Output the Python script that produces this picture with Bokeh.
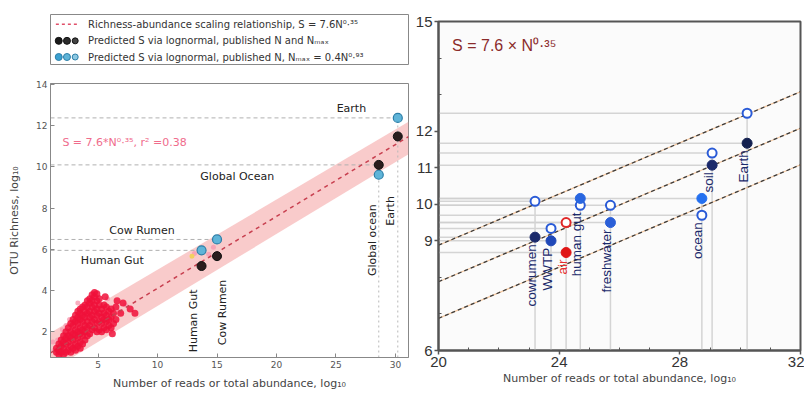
import numpy as np
from bokeh.plotting import figure
from bokeh.layouts import row, column
from bokeh.models import ColumnDataSource, FixedTicker, Range1d
from bokeh.embed import file_html
from bokeh.resources import INLINE
from bokeh.core.properties import value

# ---------------- left panel data ----------------
fit_x = [1.0, 31.1]
fit_y = [0.97, 11.47]
band_x = [1.0, 31.1]
band_lo = [0.11, 10.62]
band_hi = [1.95, 12.19]

sites = ["Human Gut", "Cow Rumen", "Global ocean", "Earth"]
site_n = [13.7, 15.0, 28.6, 30.2]
site_s_published = [5.19, 5.67, 10.10, 11.48]   # black: published N and Nmax
site_s_scaled = [5.95, 6.48, 9.62, 12.38]       # blue: Nmax = 0.4 N^0.93

cloud_x = [
    1.5, 1.5,
    1.7, 1.7, 1.7,
    1.9, 1.9, 1.9,
    2.1, 2.1, 2.1, 2.1,
    2.3, 2.3, 2.3, 2.3,
    2.5, 2.5, 2.5, 2.5,
    2.7, 2.7, 2.7, 2.7, 2.7,
    2.9, 2.9, 2.9, 2.9, 2.9,
    3.1, 3.1, 3.1, 3.1, 3.1, 3.1,
    3.3, 3.3, 3.3, 3.3, 3.3, 3.3,
    3.5, 3.5, 3.5, 3.5, 3.5, 3.5, 3.5,
    3.7, 3.7, 3.7, 3.7, 3.7, 3.7,
    3.9, 3.9, 3.9, 3.9, 3.9, 3.9,
    4.1, 4.1, 4.1, 4.1, 4.1, 4.1,
    4.3, 4.3, 4.3, 4.3, 4.3, 4.3,
    4.5, 4.5, 4.5, 4.5, 4.5, 4.5,
    4.7, 4.7, 4.7, 4.7, 4.7, 4.7,
    4.9, 4.9, 4.9, 4.9, 4.9, 4.9,
    5.1, 5.1, 5.1, 5.1, 5.1,
    5.3, 5.3, 5.3, 5.3,
    5.5, 5.5, 5.5, 5.5,
    5.7, 5.7, 5.7, 5.7,
    5.9, 5.9, 5.9,
    6.1, 6.1, 6.1,
    6.3, 6.3,
    6.5, 6.5,
    6.9, 7.7, 8.1, 6.2, 5.6, 7.1, 6.6]
cloud_y = [
    1.0, 1.2,
    0.9, 1.1, 1.4,
    1.0, 1.3, 1.6,
    0.9, 1.2, 1.5, 1.8,
    1.0, 1.4, 1.7, 2.0,
    1.1, 1.5, 1.8, 2.2,
    1.0, 1.3, 1.7, 2.0, 2.4,
    1.2, 1.6, 1.9, 2.3, 2.6,
    1.1, 1.4, 1.8, 2.1, 2.5, 2.8,
    1.3, 1.7, 2.0, 2.4, 2.7, 3.0,
    1.2, 1.5, 1.9, 2.2, 2.6, 2.9, 3.1,
    1.4, 1.8, 2.1, 2.5, 2.8, 3.2,
    1.6, 2.0, 2.3, 2.7, 3.0, 3.3,
    1.8, 2.2, 2.5, 2.9, 3.2, 3.5,
    1.9, 2.3, 2.7, 3.0, 3.4, 3.6,
    2.1, 2.5, 2.8, 3.2, 3.5, 3.8,
    2.2, 2.6, 3.0, 3.3, 3.7, 3.9,
    2.0, 2.4, 2.8, 3.1, 3.5, 3.85,
    2.1, 2.5, 2.9, 3.3, 3.6,
    2.0, 2.4, 2.7, 3.1,
    2.2, 2.6, 2.9, 3.3,
    2.1, 2.5, 2.8, 3.2,
    2.3, 2.6, 3.0,
    2.2, 2.7, 3.1,
    2.4, 2.9,
    2.6, 3.2,
    2.9, 3.1, 2.9, 1.9, 3.7, 3.4, 3.5]

pink_x = [1.2, 1.3, 1.6, 1.8, 2.0, 2.3, 2.6, 3.3, 5.8, 6.8, 7.3, 13.1, 14.3, 14.7]
pink_y = [1.5, 1.1, 1.6, 0.85, 2.1, 2.3, 2.6, 3.4, 3.6, 3.0, 3.3, 5.80, 5.76, 6.10]
yellow_x = [12.9]
yellow_y = [5.67]

# ---------------- right panel data ----------------
env = ["cowrumen", "WWTP", "air", "human gut", "freshwater", "ocean", "soil", "Earth"]
env_n = [23.20, 23.73, 24.23, 24.70, 25.70, 28.73, 29.07, 30.23]
env_s_open = [10.08, 9.34, 9.50, 9.97, 9.97, 9.70, 11.40, 12.49]
env_s_filled = [9.10, 9.00, 8.68, 10.16, 9.50, 10.16, 11.07, 11.67]
env_fill = ["#1b2a6b", "#2048b8", "#e01616", "#2866e0", "#2a5fd8", "#2470f0", "#1b2a6b", "#13204f"]
env_ring = ["#2a5bd7", "#2a5bd7", "#e02828", "#2a5bd7", "#2a5bd7", "#2a5bd7", "#2a5bd7", "#2a5bd7"]
env_text = ["#1b2a6b", "#1b2a6b", "#e53030", "#1b2a6b", "#1b2a6b", "#1b2a6b", "#1b2a6b", "#1b2a6b"]

scal_x = [20.0, 32.0]
scal_mid = [7.88, 12.08]
scal_hi = [8.88, 13.08]
scal_lo = [6.88, 11.08]

LF = value("DejaVu Sans")
RF = value("Liberation Sans")

# ================= legend strip (above left panel) =================
leg = figure(width=412, height=65, x_range=Range1d(0, 100), y_range=Range1d(0, 3),
             x_axis_type=None, y_axis_type=None, toolbar_location=None,
             output_backend="svg", min_border_left=50, min_border_right=4,
             min_border_top=14, min_border_bottom=0, frame_width=358, frame_height=51)
leg.grid.visible = False
leg.outline_line_color = "#888888"
leg.outline_line_width = 1
leg.line([1.5, 7.5], [2.42, 2.42], line_color="#e0506a", line_dash="3 3", line_width=1.5)
leg.scatter([2.3, 4.6, 6.9], [1.45, 1.45, 1.45], size=[7, 7, 6],
            fill_color=["#1a1a1a", "#2b2b2b", "#444444"], line_color="#111111")
leg.scatter([2.3, 4.6, 6.9], [0.5, 0.5, 0.5], size=[7, 7, 6],
            fill_color=["#3aa0d0", "#5fb4d8", "#8cc8e2"], line_color="#2d7fa8")
leg.text([10.5, 10.5, 10.5], [2.42, 1.45, 0.5],
         text=["Richness-abundance scaling relationship, S = 7.6N\u2070\u00b7\u00b3\u2075",
               "Predicted S via lognormal, published N and N\u2098\u2090\u2093",
               "Predicted S via lognormal, published N, N\u2098\u2090\u2093 = 0.4N\u2070\u00b7\u2079\u00b3"],
         text_font=LF, text_font_size="10px", text_color="#333333",
         text_baseline="middle", text_align="left")

# ================= left panel =================
pl = figure(width=412, height=327, x_range=Range1d(1.0, 31.1), y_range=Range1d(0.75, 14.05),
            toolbar_location=None, output_backend="svg",
            min_border_left=50, min_border_right=4, min_border_top=18, min_border_bottom=35,
            frame_width=358, frame_height=274)
pl.grid.visible = False
pl.outline_line_color = "#888888"
pl.outline_line_width = 1
for ax in (pl.xaxis[0], pl.yaxis[0]):
    ax.axis_line_color = "#888888"
    ax.major_tick_in = 4
    ax.major_tick_out = 0
    ax.minor_tick_line_color = None
    ax.major_tick_line_color = "#888888"
    ax.major_label_text_font = "DejaVu Sans"
    ax.major_label_text_font_size = "9px"
    ax.major_label_text_color = "#555555"
    ax.axis_label_text_font = "DejaVu Sans"
    ax.axis_label_text_font_size = "11px"
    ax.axis_label_text_font_style = "normal"
    ax.axis_label_text_color = "#444444"
    ax.major_label_standoff = 3
pl.xaxis.ticker = FixedTicker(ticks=[5, 10, 15, 20, 25, 30])
pl.yaxis.ticker = FixedTicker(ticks=[2, 4, 6, 8, 10, 12, 14])
pl.xaxis.axis_label = "Number of reads or total abundance, log\u2081\u2080"
pl.yaxis.axis_label = "OTU Richness, log\u2081\u2080"
pl.xaxis.axis_label_standoff = 6
pl.yaxis.axis_label_standoff = 12

pl.varea(x=band_x, y1=band_lo, y2=band_hi, fill_color="#f4a0a0", fill_alpha=0.55)

# reference dashed lines to the predictions
h_y = [site_s_scaled[0], site_s_scaled[1], site_s_published[2], site_s_scaled[3]]
pl.segment(x0=[fit_x[0]] * 4, y0=h_y, x1=site_n, y1=h_y,
           line_color="#b0b0b0", line_dash="4 3", line_width=1)
pl.segment(x0=site_n[2:], y0=[0.75, 0.75], x1=site_n[2:], y1=[site_s_scaled[2], site_s_scaled[3]],
           line_color="#b8b8b8", line_dash="2 3", line_width=1)

pl.scatter(pink_x, pink_y, size=5, fill_color="#f79ab0", line_color=None, fill_alpha=0.8)
pl.scatter(cloud_x, cloud_y, size=7, fill_color="#f0103a", line_color=None, fill_alpha=0.85)
pl.scatter(yellow_x, yellow_y, size=5, fill_color="#f2d060", line_color=None)
pl.line(fit_x, fit_y, line_color="#c84050", line_dash="4 4", line_width=1.5)

pl.scatter(site_n, site_s_scaled, size=9, fill_color="#5fb4d8", line_color="#2d7fa8", line_width=1.2)
pl.scatter(site_n, site_s_published, size=9, fill_color="#2b1d1d", line_color="#111111")

pl.text([2.0], [11.2], text=["S = 7.6*N\u2070\u00b7\u00b3\u2075, r\u00b2 =0.38"],
        text_font=LF, text_font_size="11px", text_color="#f06c8c",
        text_baseline="middle", text_align="left")
pl.text([26.3, 16.7, 8.7, 6.2], [12.86, 9.52, 6.9, 5.48],
        text=["Earth", "Global Ocean", "Cow Rumen", "Human Gut"],
        text_font=LF, text_font_size="11px", text_color="#222222",
        text_baseline="middle", text_align="center")
pl.text([13.0, 15.5, 28.05, 29.6], [1.0, 1.35, 4.7, 7.15],
        text=["Human Gut", "Cow Rumen", "Global ocean", "Earth"],
        angle=np.pi / 2, text_font=LF, text_font_size="11px", text_color="#222222",
        text_baseline="middle", text_align="left")

# ================= right panel =================
pr = figure(width=392, height=392, x_range=Range1d(20, 32), y_range=Range1d(6, 15),
            toolbar_location=None, output_backend="svg",
            min_border_left=26, min_border_right=4, min_border_top=21, min_border_bottom=42,
            frame_width=362, frame_height=329)
pr.grid.visible = False
pr.background_fill_color = "#fbfbfb"
pr.outline_line_color = "#555555"
pr.outline_line_width = 2
for ax in (pr.xaxis[0], pr.yaxis[0]):
    ax.axis_line_color = "#555555"
    ax.axis_line_width = 2
    ax.major_tick_line_color = "#555555"
    ax.major_tick_line_width = 1.5
    ax.major_tick_out = 4
    ax.major_tick_in = 0
    ax.minor_tick_line_color = "#555555"
    ax.minor_tick_in = 3
    ax.minor_tick_out = 0
    ax.major_label_text_font = "Liberation Sans"
    ax.major_label_text_font_size = "15px"
    ax.major_label_text_color = "#333333"
    ax.major_label_standoff = 2
pr.xaxis.ticker = FixedTicker(ticks=[20, 24, 28, 32], minor_ticks=[21, 22, 23, 25, 26, 27, 29, 30, 31])
pr.yaxis.ticker = FixedTicker(ticks=[6, 9, 10, 11, 12, 15], minor_ticks=[7, 8, 13, 14])
pr.xaxis.axis_label = "Number of reads or total abundance, log\u2081\u2080"
pr.xaxis.axis_label_text_font = "DejaVu Sans"
pr.xaxis.axis_label_text_font_size = "11px"
pr.xaxis.axis_label_text_font_style = "normal"
pr.xaxis.axis_label_text_color = "#444444"
pr.xaxis.axis_label_standoff = 2

x0 = pr.x_range.start
y0 = pr.y_range.start
hy = env_s_open + env_s_filled
hx = env_n + env_n
pr.segment(x0=[x0] * len(hy), y0=hy, x1=hx, y1=hy, line_color="#cfcfcf", line_width=1.5, line_alpha=0.9)
vtop = [max(a, b) for a, b in zip(env_s_open, env_s_filled)]
pr.segment(x0=env_n, y0=[y0] * len(env_n), x1=env_n, y1=vtop, line_color="#d4d4d4", line_width=1.5)

for ys in (scal_hi, scal_mid, scal_lo):
    pr.line(scal_x, ys, line_color="#f2a868", line_width=1.2, line_alpha=0.6)
    pr.line(scal_x, ys, line_color="#3c3c3c", line_width=1.3, line_dash="4 3")

src = ColumnDataSource(dict(n=env_n, so=env_s_open, sf=env_s_filled, fill=env_fill,
                            ring=env_ring, tc=env_text, name=env,
                            ymin=[min(a, b) for a, b in zip(env_s_open, env_s_filled)]))
pr.text(x="n", y="ymin", text="name", source=src, angle=np.pi / 2,
        text_align="right", text_baseline="middle", x_offset=-4, y_offset=7,
        text_font=RF, text_font_size="13.5px", text_color="tc")
pr.scatter(x="n", y="so", source=src, size=9, fill_color="white", line_color="ring", line_width=2)
pr.scatter(x="n", y="sf", source=src, size=10, fill_color="fill", line_color="fill")

pr.text([20.45], [14.35], text=["S = 7.6 \u00d7 N\u2070\u00b7\u00b3\u2075"], text_font=RF,
        text_font_size="16px", text_color="#8b2b2b", text_baseline="middle", text_align="left")

layout = row(column(leg, pl), pr)
open("out.html", "w").write(file_html(layout, INLINE))
